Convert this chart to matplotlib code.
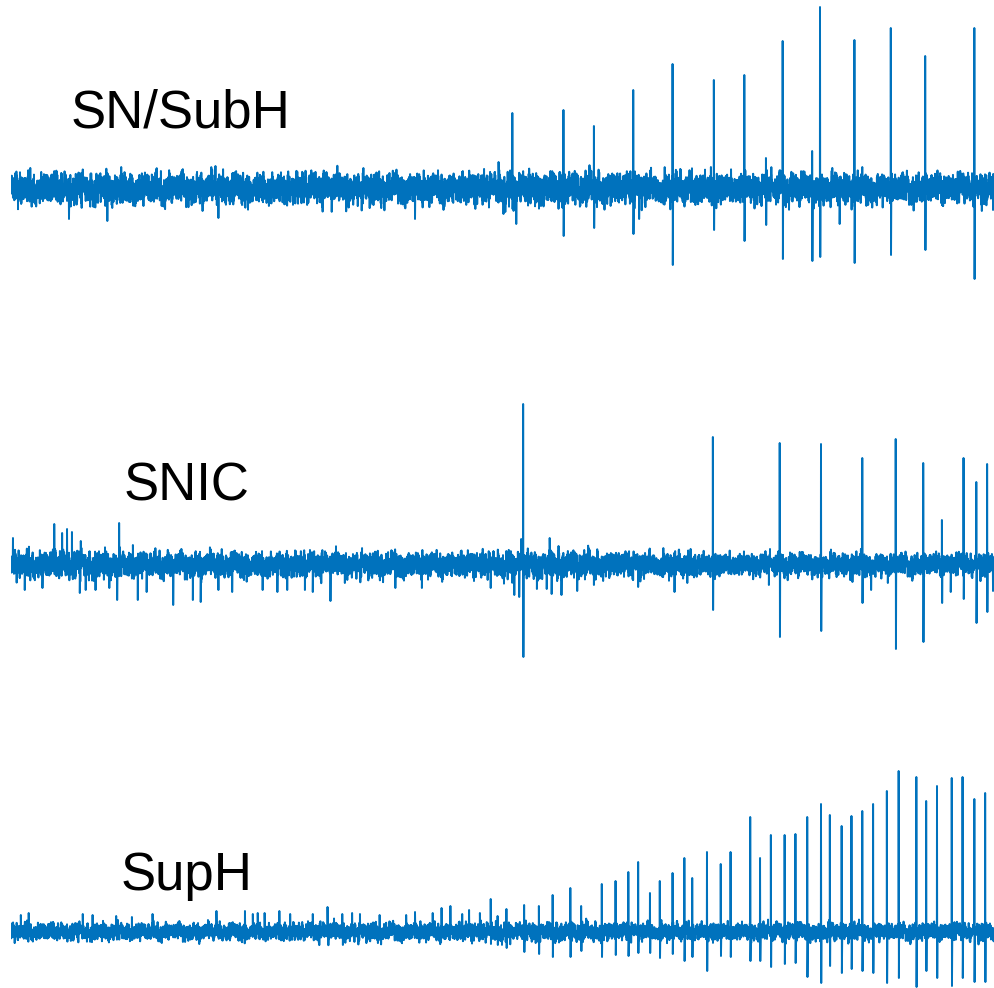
import numpy as np
import matplotlib
matplotlib.use("Agg")
import matplotlib.pyplot as plt

# ---------------- data ----------------
labels = ["SN/SubH", "SNIC", "SupH"]
duration = 10.0  # s
fs = 800         # samples per second

# SN/SubH spikes: time (s), upward peak, downward trough (a.u.)
subh_t    = [5.10, 5.62, 5.93, 6.33, 6.73, 7.15, 7.46, 7.68, 7.85, 8.15, 8.23, 8.58, 8.95, 9.30, 9.80]
subh_up   = [76, 79, 63, 99, 125, 109, 114, 31, 148, 38, 182, 149, 161, 133, 161]
subh_down = [-20, -47, -39, -45, -76, -41, -52, -36, -70, -72, -68, -74, -66, -61, -90]
subh_minor_t = [0.59, 0.98, 2.08, 2.11, 4.11, 4.96, 5.01, 5.14, 6.39, 7.12, 8.43, 9.99]
subh_minor_a = [-30, -32, 23, -29, -30, 27, -25, -35, -30, 22, -35, -21]
subh_env = [31, 31, 31, 31, 31, 32, 31, 30, 30, 30]

# SNIC spikes
snic_t    = [5.21, 7.14, 7.82, 8.24, 8.66, 9.00, 9.28, 9.47, 9.69, 9.82, 9.93]
snic_up   = [161, 128, 122, 121, 107, 126, 102, 45, 107, 83, 101]
snic_down = [-92, -45, -72, -66, -38, -84, -77, -38, -34, -58, -47]
snic_minor_t = [0.02, 0.14, 0.32, 0.70, 0.76, 0.86, 1.00, 1.08, 1.29, 1.38, 1.65, 1.85, 1.93,
                2.11, 2.25, 2.56, 2.71, 2.81, 2.99, 3.07, 3.25, 3.91, 4.18, 4.88, 5.12, 5.17,
                5.35, 5.45, 5.50, 5.60, 5.76, 5.93, 6.38, 6.75, 6.88, 7.71, 8.56, 8.75, 8.92,
                9.56, 9.99,
                0.02, 0.44, 0.52, 0.57, 0.62, 0.71, 1.10, 1.24, 5.19, 5.48, 5.57]
snic_minor_a = [-37, -25, -23, -28, -25, -25, -23, -35, -35, -27, -40, -35, -37,
                -25, -27, -25, -27, -25, -25, -27, -36, -23, -23, -23, -30, -32,
                -24, -24, -29, -30, -26, -20, -22, -27, -18, -20, -17, -25, -18,
                -27, -26,
                27, 41, 32, 36, 33, 24, 42, 20, 26, 27, 19]
snic_env = [27, 25, 25, 25, 25, 26, 24, 22, 22, 22]

# SupH spikes
suph_t = [4.88, 4.95, 5.04, 5.22, 5.37, 5.51, 5.69, 5.80, 6.01, 6.15, 6.28, 6.38, 6.50, 6.60,
          6.73, 6.85, 6.93, 7.08, 7.22, 7.32, 7.52, 7.62, 7.73, 7.87, 7.98, 8.10, 8.24, 8.33,
          8.45, 8.55, 8.66, 8.77, 8.91, 9.03, 9.21, 9.31, 9.42, 9.57, 9.68, 9.80, 9.91]
suph_up = [33, 16, 23, 27, 26, 37, 44, 26, 48, 51, 60, 70, 39, 51,
           59, 74, 54, 80, 68, 80, 115, 74, 97, 97, 98, 115, 128, 117,
           106, 116, 121, 128, 141, 161, 155, 131, 146, 154, 155, 133, 139]
suph_down = [-12, -13, -16, -20, -22, -25, -25, -19, -25, -23, -24, -21, -21, -26,
             -22, -29, -25, -39, -24, -25, -29, -29, -35, -32, -31, -45, -51, -34,
             -41, -37, -39, -41, -51, -46, -55, -39, -46, -54, -46, -50, -50]
suph_minor_t = [0.10, 0.18, 0.73, 0.83, 1.07, 1.23, 1.44, 2.09, 2.38, 2.46, 2.51, 2.58, 2.73,
                2.84, 3.07, 3.22, 3.37, 3.47, 3.55, 3.75, 4.02, 4.11, 4.29, 4.38, 4.47, 4.59,
                4.66, 4.77]
suph_minor_a = [17, 19, 18, 17, 16, 15, 18, 21, 21, 18, 19, 19, 21,
                18, 18, 25, 18, 19, 18, 17, 17, 20, 19, 24, 26, 18,
                22, 19]
suph_env = [17, 17, 17, 18, 18, 18, 17, 17, 17, 17]

# hand-written wiggle patterns (noise texture)
pat_a = [0.12, -0.35, 0.48, -0.10, 0.22, -0.62, 0.05, 0.31, -0.18, 0.70, -0.42, 0.08, -0.27,
         0.15, 0.55, -0.08, -0.50, 0.27, -0.14, 0.38, -0.73, 0.02, 0.19, -0.33, 0.44, -0.05,
         0.28, -0.58, 0.10, 0.62, -0.22, -0.04, 0.35, -0.47, 0.17, -0.12, 0.50]
pat_b = [-0.20, 0.41, -0.06, 0.33, -0.55, 0.18, 0.64, -0.29, 0.07, -0.40, 0.25, -0.12, 0.52,
         -0.67, 0.09, 0.30, -0.16, 0.45, -0.36, 0.01, 0.58, -0.24, -0.48, 0.21, 0.13, -0.60,
         0.37, -0.03, 0.26, -0.44, 0.69, -0.09, -0.31, 0.16, 0.47, -0.52, 0.04, -0.19, 0.34,
         -0.26, 0.60, -0.38, 0.11, -0.07, 0.43, -0.57, 0.23, 0.06, -0.45, 0.32, -0.15, 0.50, -0.34]
pat_c = [0.3, -0.2, 0.1, -0.4, 0.5, 0.0, -0.3, 0.2, 0.4, -0.5, 0.1, -0.1, 0.3, -0.2, 0.0,
         0.2, -0.4, 0.5, -0.3, 0.1, 0.4, -0.1, -0.5, 0.3, 0.0, 0.2, -0.2, 0.4, -0.3, 0.1,
         -0.4, 0.5, 0.2, -0.1, 0.0, -0.3, 0.3, -0.5, 0.1, 0.4, -0.2]
pat_d = [0.2, -0.1, 0.3, 0.0, -0.3, 0.1, -0.2, 0.25, -0.05, 0.15, -0.25, 0.05, 0.3, -0.15,
         -0.3, 0.1, 0.2, -0.2, 0.0, 0.25, -0.1, -0.25, 0.15, 0.05, -0.05, 0.3, -0.3]

COLOR = "#0072BD"


def build_trace(env, spk_t, spk_up, spk_down, minor_t, minor_a, shift):
    n = int(duration * fs)
    idx = np.arange(n) + shift
    a = np.asarray(pat_a)[idx % len(pat_a)]
    b = np.asarray(pat_b)[idx % len(pat_b)]
    c = np.asarray(pat_c)[(idx // 9) % len(pat_c)]
    d = np.asarray(pat_d)[(idx // 47) % len(pat_d)]
    env_s = np.repeat(np.asarray(env, float), n // len(env))
    y = env_s * (0.42 * a + 0.32 * b + 0.45 * c + 0.35 * d)
    for t, m in zip(minor_t, minor_a):
        i = min(int(round(t * fs)), n - 2)
        y[i] = m
        y[i + 1] = 0.5 * m
    for t, u, dn in zip(spk_t, spk_up, spk_down):
        i = int(round(t * fs))
        if i + 4 < n:
            y[i] = u
            y[i + 1] = 0.4 * u
            y[i + 2] = dn
            y[i + 3] = 0.6 * dn
    tt = np.arange(n) / fs
    return tt, y


fig = plt.figure(figsize=(9.94, 9.88), dpi=100)
W, H = 994.0, 988.0
x_left = 11.0 / W

# (top row, bottom row, baseline row) in pixels for each axes band
bands = [(0, 320, 189), (320, 700, 565), (700, 988, 932)]
traces = [
    (subh_env, subh_t, subh_up, subh_down, subh_minor_t, subh_minor_a, 0),
    (snic_env, snic_t, snic_up, snic_down, snic_minor_t, snic_minor_a, 11),
    (suph_env, suph_t, suph_up, suph_down, suph_minor_t, suph_minor_a, 27),
]
label_pos = [(71, 127), (124, 500), (121, 890)]

for (top, bot, base), tr, lab, (lx, ly) in zip(bands, traces, labels, label_pos):
    ax = fig.add_axes([x_left, 1 - bot / H, 1 - x_left, (bot - top) / H])
    t, y = build_trace(*tr)
    ax.plot(t, y, color=COLOR, lw=1.4)
    ax.set_xlim(0, duration)
    ax.set_ylim(-(bot - base), base - top)
    ax.axis("off")
    fig.text(lx / W, 1 - ly / H, lab, fontsize=38, family="Liberation Sans",
             ha="left", va="baseline", color="black")

fig.savefig("out.png", dpi=100)
